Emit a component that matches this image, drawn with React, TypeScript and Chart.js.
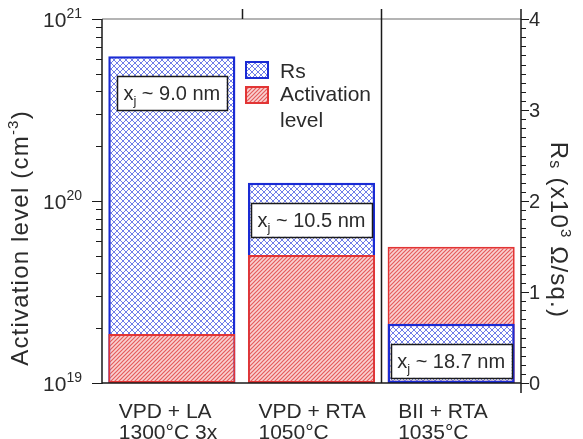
import React, { useEffect, useRef } from 'react';
import { Chart, registerables } from 'chart.js';

Chart.register(...registerables);

// Process conditions (two-line category labels)
const categories = [
  ['VPD + LA', '1300°C 3x'],
  ['VPD + RTA', '1050°C'],
  ['BII + RTA', '1035°C'],
];
// Sheet resistance, x10^3 Ω/sq.
const rsValues = [3.59, 2.2, 0.65];
// Activation level, cm^-3
const activationLevels = [1.86e19, 5.05e19, 5.6e19];
// Junction depth, nm
const junctionDepths = ['9.0', '10.5', '18.7'];
// Axis ticks
const activationTicks = [1e19, 1e20, 1e21];
const rsTicks = [0, 1, 2, 3, 4];

const FONT = '"Liberation Sans", Arial, Helvetica, sans-serif';
const TEXT = '#2b2b2b';
const BLUE_EDGE = '#1a2bd4';
const BLUE_LINE = '#4b5ce2';
const RED_EDGE = '#e23535';
const RED_LINE = '#e55c5c';

type Run = { text: string; size: number; dy?: number };

function crossHatch(): CanvasPattern {
  const c = document.createElement('canvas');
  c.width = 6;
  c.height = 6;
  const g = c.getContext('2d')!;
  g.fillStyle = '#ffffff';
  g.fillRect(0, 0, 6, 6);
  g.strokeStyle = BLUE_LINE;
  g.lineWidth = 0.8;
  g.beginPath();
  g.moveTo(-1, -1);
  g.lineTo(7, 7);
  g.moveTo(7, -1);
  g.lineTo(-1, 7);
  g.stroke();
  return g.createPattern(c, 'repeat')!;
}

function stripes(): CanvasPattern {
  const c = document.createElement('canvas');
  c.width = 4;
  c.height = 4;
  const g = c.getContext('2d')!;
  g.fillStyle = '#f9d2d2';
  g.fillRect(0, 0, 4, 4);
  g.strokeStyle = RED_LINE;
  g.lineWidth = 1.2;
  g.beginPath();
  g.moveTo(-1, 5);
  g.lineTo(5, -1);
  g.moveTo(-1, 1);
  g.lineTo(1, -1);
  g.moveTo(3, 5);
  g.lineTo(5, 3);
  g.stroke();
  return g.createPattern(c, 'repeat')!;
}

function runsWidth(ctx: CanvasRenderingContext2D, runs: Run[], spacing = 0) {
  let w = 0;
  (ctx as any).letterSpacing = `${spacing}px`;
  for (const r of runs) {
    ctx.font = `${r.size}px ${FONT}`;
    w += ctx.measureText(r.text).width;
  }
  (ctx as any).letterSpacing = '0px';
  return w;
}

// Draws text pieces in sequence on one baseline; align is relative to the whole run
function drawRuns(
  ctx: CanvasRenderingContext2D,
  runs: Run[],
  x: number,
  y: number,
  align: 'left' | 'center' | 'right' = 'left',
  spacing = 0,
) {
  const w = runsWidth(ctx, runs, spacing);
  let cx = align === 'left' ? x : align === 'center' ? x - w / 2 : x - w;
  ctx.textAlign = 'left';
  ctx.textBaseline = 'alphabetic';
  (ctx as any).letterSpacing = `${spacing}px`;
  for (const r of runs) {
    ctx.font = `${r.size}px ${FONT}`;
    ctx.fillText(r.text, cx, y + (r.dy ?? 0));
    cx += ctx.measureText(r.text).width;
  }
  (ctx as any).letterSpacing = '0px';
  return w;
}

const overlayPlugin = {
  id: 'figureOverlay',
  afterDraw(chart: any) {
    const ctx: CanvasRenderingContext2D = chart.ctx;
    const area = chart.chartArea;
    const xs = chart.scales.x;
    const ya = chart.scales.yAct;
    const yr = chart.scales.yRs;
    const blue = chart.data.datasets[0].backgroundColor;
    const red = chart.data.datasets[1].backgroundColor;
    ctx.save();

    // top frame line
    ctx.strokeStyle = '#b4b4b4';
    ctx.lineWidth = 2;
    ctx.beginPath();
    ctx.moveTo(area.left, area.top);
    ctx.lineTo(area.right, area.top);
    ctx.stroke();

    ctx.strokeStyle = '#1a1a1a';
    ctx.lineWidth = 1.5;
    ctx.beginPath();
    // left axis
    ctx.moveTo(area.left, area.top);
    ctx.lineTo(area.left, area.bottom + 1);
    // bottom axis
    ctx.moveTo(area.left, area.bottom);
    ctx.lineTo(area.right, area.bottom);
    // right axis
    ctx.moveTo(area.right, area.top - 10);
    ctx.lineTo(area.right, area.bottom + 10);
    ctx.stroke();

    // category separators
    const n = categories.length;
    ctx.beginPath();
    for (let i = 0; i < n - 1; i++) {
      const bx = Math.round((xs.getPixelForValue(i) + xs.getPixelForValue(i + 1)) / 2) + 0.5;
      ctx.moveTo(bx, area.top - 10);
      ctx.lineTo(bx, i === n - 2 ? area.bottom : area.top);
    }
    ctx.stroke();

    // left log axis ticks
    const lo = Math.log10(activationTicks[0]);
    const hi = Math.log10(activationTicks[activationTicks.length - 1]);
    ctx.lineWidth = 1.2;
    ctx.beginPath();
    for (let d = lo; d <= hi; d++) {
      for (let m = 1; m <= 9; m++) {
        if (d === hi && m > 1) break;
        const py = Math.round(ya.getPixelForValue(m * Math.pow(10, d))) + 0.5;
        const len = m === 1 ? 10 : 6;
        ctx.moveTo(area.left - len, py);
        ctx.lineTo(area.left, py);
      }
    }
    // right linear axis ticks
    const rMax = rsTicks[rsTicks.length - 1];
    for (let k = 0; k <= rMax * 10; k++) {
      const py = Math.round(yr.getPixelForValue(k / 10)) + 0.5;
      const len = k % 10 === 0 ? 8 : 5;
      ctx.moveTo(area.right, py);
      ctx.lineTo(area.right + len, py);
    }
    ctx.stroke();

    // tick labels
    ctx.fillStyle = TEXT;
    for (const v of activationTicks) {
      const py = ya.getPixelForValue(v);
      drawRuns(
        ctx,
        [
          { text: '10', size: 21 },
          { text: String(Math.round(Math.log10(v))), size: 14, dy: -9 },
        ],
        area.left - 20,
        py + 8,
        'right',
      );
    }
    for (const v of rsTicks) {
      const py = yr.getPixelForValue(v);
      drawRuns(ctx, [{ text: String(v), size: 20 }], area.right + 8, py + 7, 'left');
    }

    // axis titles
    ctx.save();
    ctx.translate(28, 238);
    ctx.rotate(-Math.PI / 2);
    drawRuns(
      ctx,
      [
        { text: 'Activation level (cm', size: 24 },
        { text: '-3', size: 15, dy: -10 },
        { text: ')', size: 24 },
      ],
      0,
      0,
      'center',
      1.2,
    );
    ctx.restore();

    ctx.save();
    ctx.translate(551, 230);
    ctx.rotate(Math.PI / 2);
    drawRuns(
      ctx,
      [
        { text: 'R', size: 24 },
        { text: 's', size: 16, dy: 1 },
        { text: ' (x10', size: 24 },
        { text: '3', size: 15, dy: -10 },
        { text: ' Ω/sq.)', size: 24 },
      ],
      0,
      0,
      'center',
      1.2,
    );
    ctx.restore();

    // legend
    const lx = Math.round((xs.getPixelForValue(0) + xs.getPixelForValue(1)) / 2) + 4;
    const boxes = [
      { y: 62, fill: blue, edge: BLUE_EDGE },
      { y: 87, fill: red, edge: RED_EDGE },
    ];
    for (const b of boxes) {
      ctx.fillStyle = b.fill;
      ctx.fillRect(lx, b.y, 22, 16);
      ctx.strokeStyle = b.edge;
      ctx.lineWidth = 2;
      ctx.strokeRect(lx, b.y, 22, 16);
    }
    ctx.fillStyle = TEXT;
    drawRuns(ctx, [{ text: 'Rs', size: 21 }], lx + 34, 78);
    drawRuns(ctx, [{ text: 'Activation', size: 21 }], lx + 34, 101);
    drawRuns(ctx, [{ text: 'level', size: 21 }], lx + 34, 127);

    // junction depth callouts
    rsValues.forEach((rs, i) => {
      const cx = xs.getPixelForValue(i);
      const cy = yr.getPixelForValue(rs) + 37;
      const runs: Run[] = [
        { text: 'x', size: 20 },
        { text: 'j', size: 13, dy: 5 },
        { text: ` ~ ${junctionDepths[i]} nm`, size: 20 },
      ];
      const w = runsWidth(ctx, runs) + 13;
      const h = 34;
      ctx.fillStyle = '#ffffff';
      ctx.fillRect(cx - w / 2, cy - h / 2, w, h);
      ctx.strokeStyle = '#1a1a1a';
      ctx.lineWidth = 1.5;
      ctx.strokeRect(Math.round(cx - w / 2) + 0.5, Math.round(cy - h / 2) + 0.5, Math.round(w), h);
      ctx.fillStyle = TEXT;
      drawRuns(ctx, runs, cx, cy + 7, 'center');
    });

    ctx.restore();
  },
};

export default function App() {
  const ref = useRef<HTMLCanvasElement>(null);

  useEffect(() => {
    const canvas = ref.current!;
    const blue = crossHatch();
    const red = stripes();

    // whichever bar reaches higher on its own axis is drawn behind the other
    const rsMax = rsTicks[rsTicks.length - 1];
    const lo = Math.log10(activationTicks[0]);
    const span = Math.log10(activationTicks[activationTicks.length - 1]) - lo;
    const rsTaller = rsValues.map((v, i) => v / rsMax >= (Math.log10(activationLevels[i]) - lo) / span);
    const rsBack = rsValues.map((v, i) => (rsTaller[i] ? v : null));
    const rsFront = rsValues.map((v, i) => (rsTaller[i] ? null : v));

    const common = {
      grouped: false,
      categoryPercentage: 1,
      barPercentage: 0.91,
      borderWidth: 2.5,
      borderSkipped: false as const,
    };

    const chart = new Chart(canvas, {
      type: 'bar',
      data: {
        labels: categories,
        datasets: [
          { ...common, label: 'Rs', data: rsFront, yAxisID: 'yRs', backgroundColor: blue, borderColor: BLUE_EDGE },
          {
            ...common,
            borderWidth: 2,
            label: 'Activation level',
            data: activationLevels,
            yAxisID: 'yAct',
            base: activationTicks[0],
            backgroundColor: red,
            borderColor: RED_EDGE,
          },
          { ...common, label: 'Rs', data: rsBack, yAxisID: 'yRs', backgroundColor: blue, borderColor: BLUE_EDGE },
        ],
      } as any,
      options: {
        animation: false,
        responsive: false,
        devicePixelRatio: 1,
        layout: { padding: { top: 19, left: 0, right: 0, bottom: 0 } },
        plugins: { legend: { display: false }, tooltip: { enabled: false } },
        scales: {
          x: {
            offset: true,
            grid: { display: false },
            border: { display: false },
            ticks: {
              align: 'start',
              labelOffset: -53,
              padding: 11,
              maxRotation: 0,
              autoSkip: false,
              color: TEXT,
              font: { family: FONT, size: 21, lineHeight: 1.0 },
            },
            afterFit: (s: any) => {
              s.height = 56;
            },
          },
          yAct: {
            type: 'logarithmic',
            position: 'left',
            min: activationTicks[0],
            max: activationTicks[activationTicks.length - 1],
            grid: { display: false },
            border: { display: false },
            ticks: { display: false },
            afterFit: (s: any) => {
              s.width = 102;
            },
          },
          yRs: {
            type: 'linear',
            position: 'right',
            min: rsTicks[0],
            max: rsTicks[rsTicks.length - 1],
            grid: { display: false },
            border: { display: false },
            ticks: { display: false },
            afterFit: (s: any) => {
              s.width = 62;
            },
          },
        },
      } as any,
      plugins: [overlayPlugin],
    });

    return () => chart.destroy();
  }, []);

  return (
    <div style={{ position: 'fixed', left: 0, top: 0, width: 583, height: 439, background: '#ffffff' }}>
      <canvas ref={ref} width={583} height={439} style={{ display: 'block' }} />
    </div>
  );
}
